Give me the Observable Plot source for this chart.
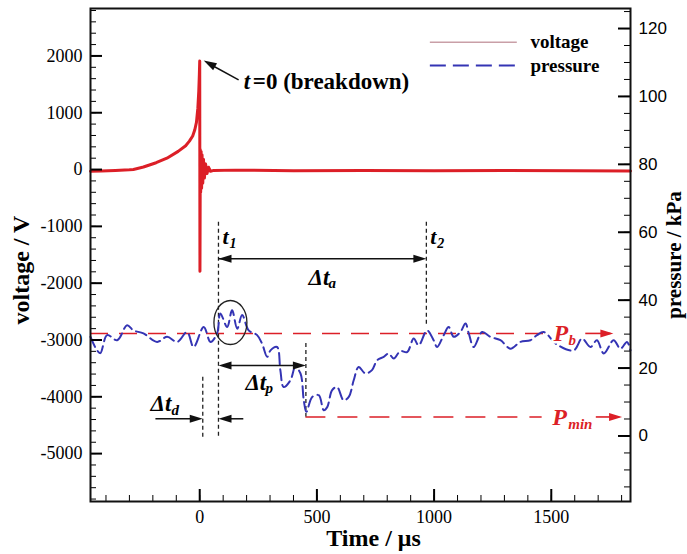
<!DOCTYPE html>
<html><head><meta charset="utf-8">
<script src="https://cdn.jsdelivr.net/npm/d3@7"></script>
<script src="https://cdn.jsdelivr.net/npm/@observablehq/plot@0.6"></script>
<style>html,body{margin:0;padding:0;background:#fff;overflow:hidden}</style>
</head><body><div id="chart"></div>
<script>
// ---------- data ----------
const voltTime = [-466,-420,-360,-300,-283,-240,-186,-140,-92,-60,-44,-30,-21,-14,-8,-4,-1.5,0,1,2.5,4,6,8,10,13,16,20,25,31,38,46,60,150,400,700,1000,1300,1600,1838];
const voltValue = [-30,-25,-15,-5,0,45,120,200,320,420,500,590,700,830,1080,1380,1680,1910,-1790,350,-400,320,-330,260,-240,180,-150,100,-70,40,-30,-15,-10,-20,-15,-20,-15,-20,-25];

const presTime = [-466,-438,-424,-395,-352,-310,-283,-240,-182,-139,-96,-54,-26,17,46,74,88,117,138,160,181,209,245,266,288,302,330,344,358,387,408,430,444,455,480,508,529,544,565,586,614,636,657,678,707,735,757,785,806,828,856,885,913,934,970,998,1013,1041,1062,1084,1112,1134,1148,1169,1205,1240,1283,1326,1368,1411,1439,1468,1525,1596,1631,1667,1695,1724,1766,1795,1823,1838];
const presValue = [29.2,25.2,24.4,29.7,28.2,32.6,31.1,30.2,27.7,29.2,27.7,30.6,26.2,32.1,27.7,30.2,36.1,32.1,37.0,31.6,35.6,31.1,29.7,27.2,23.3,25.2,26.2,19.4,14.4,16.4,20.3,18.4,10.5,7.1,11.5,12.0,7.6,8.5,13.5,14.4,10.5,11.5,16.4,20.3,18.4,19.4,22.3,23.3,24.3,22.8,25.0,24.7,28.7,26.7,31.1,28.2,26.2,29.7,32.1,29.2,30.6,33.1,30.2,26.2,30.6,29.2,28.2,25.7,27.7,28.2,29.7,30.6,26.9,25.2,28.7,26.2,28.2,24.3,28.2,25.7,27.7,25.2];

const xTickValues = [0, 500, 1000, 1500];
const voltTickValues = [-5000, -4000, -3000, -2000, -1000, 0, 1000, 2000];
const presTickValues = [0, 20, 40, 60, 80, 100, 120];
const legendLabels = ["voltage", "pressure"];

// annotation values (time in µs, voltage in V, pressure in kPa)
const t1 = 80, t2 = 967, tD = 13, tMin = 453;
const Pb = 30.2, Pmin = 5.6;

// ---------- scales ----------
const timeDomain = [-466, 1838];
const voltDomain = [-5843, 2835];
const presDomain = [-19.3, 125.9];
const p2v = d3.scaleLinear(presDomain, voltDomain);

const voltData = voltTime.map((t, i) => ({t, v: voltValue[i]}));
const presData = presTime.map((t, i) => ({t, p: presValue[i]}));

const W = 540, H = 493;
const serif = "'Liberation Serif','Times New Roman',Times,serif";
const sans = "'Liberation Sans',Arial,Helvetica,sans-serif";
const red = "#dc1f27";
const blue = "#3434b4";

const tri = {draw(ctx, l) { ctx.moveTo(0, -l); ctx.lineTo(-4, 0); ctx.lineTo(4, 0); ctx.closePath(); }};
const ellipse = {draw(ctx) {
  const a = 16.5, b = 22, k = 0.5523;
  ctx.moveTo(a, 0);
  ctx.bezierCurveTo(a, k*b, k*a, b, 0, b);
  ctx.bezierCurveTo(-k*a, b, -a, k*b, -a, 0);
  ctx.bezierCurveTo(-a, -k*b, -k*a, -b, 0, -b);
  ctx.bezierCurveTo(k*a, -b, a, -k*b, a, 0);
  ctx.closePath();
}};

const head = (data, color) => Plot.vector(data, {x: "t", y: "v", rotate: "r", length: 13, anchor: "end", shape: tri, fill: color, stroke: "none"});
const txt = (t, v, s, o = {}) => Plot.text([{t, v, s}], {x: "t", y: "v", text: "s", textAnchor: "start", fontFamily: serif, fontWeight: "bold", ...o});

const yArrowA = -1570, yArrowP = -3449, yArrowD = -4387;
const yLineTop = -926, yLineBottom = -4716;

const chart = Plot.plot({
  width: 687, height: 554,
  marginLeft: 90, marginRight: 57, marginTop: 8, marginBottom: 53,
  style: {background: "#fff", fontFamily: serif},
  x: {domain: timeDomain},
  y: {domain: voltDomain},
  marks: [
    // reference lines
    Plot.ruleY([Pb], {y: p2v, x1: -466, x2: 1468, stroke: red, strokeWidth: 1.6, strokeDasharray: "18,11"}),
    Plot.ruleY([Pmin], {y: p2v, x1: tMin, x2: 1461, stroke: red, strokeWidth: 1.6, strokeDasharray: "20,12"}),
    Plot.link([{x1: 1645, x2: 1752, y: p2v(Pb)}, {x1: 1690, x2: 1790, y: p2v(Pmin)}], {x1: "x1", x2: "x2", y1: "y", y2: "y", stroke: red, strokeWidth: 1.6}),
    head([{t: 1765, v: p2v(Pb), r: 90}, {t: 1802, v: p2v(Pmin), r: 90}], red),

    // vertical dashed markers
    Plot.ruleX([
      {t: t1, a: yLineTop, b: yLineBottom},
      {t: tD, a: -3655, b: yLineBottom},
      {t: t2, a: yLineTop, b: p2v(32)},
      {t: tMin, a: p2v(27.2), b: p2v(Pmin)}
    ], {x: "t", y1: "a", y2: "b", stroke: "#222", strokeWidth: 1.3, strokeDasharray: "4,3"}),

    // data
    Plot.line(voltData, {x: "t", y: "v", stroke: red, strokeWidth: 3}),
    Plot.line(presData, {x: "t", y: d => p2v(d.p), stroke: blue, strokeWidth: 2, strokeDasharray: "11,5", curve: "catmull-rom"}),

    // arrows
    Plot.link([
      {x1: t1, x2: t2 - 30, y: yArrowA},
      {x1: t1 + 30, x2: tMin - 30, y: yArrowP},
      {x1: -189, x2: tD - 30, y: yArrowD},
      {x1: 186, x2: t1 + 30, y: yArrowD}
    ], {x1: "x1", x2: "x2", y1: "y", y2: "y", stroke: "#111", strokeWidth: 1.5}),
    head([
      {t: t1, v: yArrowA, r: -90}, {t: t2, v: yArrowA, r: 90},
      {t: t1, v: yArrowP, r: -90}, {t: tMin, v: yArrowP, r: 90},
      {t: tD, v: yArrowD, r: 90}, {t: t1, v: yArrowD, r: -90}
    ], "#111"),
    Plot.link([{x1: 166, y1: 1580, x2: 40, y2: 1863}], {x1: "x1", y1: "y1", x2: "x2", y2: "y2", stroke: "#111", strokeWidth: 1.5}),
    head([{t: 17, v: 1920, r: -61}], "#111"),

    // circle around the first peak
    Plot.dot([{t: 131, v: -2692}], {x: "t", y: "v", symbol: ellipse, stroke: "#222", strokeWidth: 1.3, fill: "none"}),

    // annotation labels
    txt(188, 1540, "t", {fontSize: 23, fontStyle: "italic"}),
    txt(188, 1540, "=0 (breakdown)", {fontSize: 23, dx: 9}),
    txt(t1, -1190, "t", {fontSize: 22, fontStyle: "italic", dx: 4}),
    txt(t1, -1190, "1", {fontSize: 14, fontStyle: "italic", dx: 11, dy: 6}),
    txt(t2, -1190, "t", {fontSize: 22, fontStyle: "italic", dx: 4}),
    txt(t2, -1190, "2", {fontSize: 14, fontStyle: "italic", dx: 11, dy: 6}),
    txt(464, -1894, "Δt", {fontSize: 23, fontStyle: "italic"}),
    txt(464, -1894, "a", {fontSize: 15, fontStyle: "italic", dx: 20, dy: 6}),
    txt(195, -3743, "Δt", {fontSize: 23, fontStyle: "italic"}),
    txt(195, -3743, "p", {fontSize: 15, fontStyle: "italic", dx: 20, dy: 6}),
    txt(-210, -4123, "Δt", {fontSize: 23, fontStyle: "italic"}),
    txt(-210, -4123, "d", {fontSize: 15, fontStyle: "italic", dx: 21, dy: 6}),
    txt(1509, p2v(Pb), "P", {fontSize: 24, fontStyle: "italic", fill: red, stroke: "#fff", strokeWidth: 5}),
    txt(1509, p2v(Pb), "b", {fontSize: 15, fontStyle: "italic", fill: red, dx: 15, dy: 7, stroke: "#fff", strokeWidth: 4}),
    txt(1504, p2v(Pmin), "P", {fontSize: 24, fontStyle: "italic", fill: red}),
    txt(1504, p2v(Pmin), "min", {fontSize: 15, fontStyle: "italic", fill: red, dx: 16, dy: 7}),

    // legend
    Plot.ruleY([2242], {x1: 984, x2: 1355, stroke: "#c99fa7", strokeWidth: 1.5}),
    Plot.ruleY([1832], {x1: 984, x2: 1355, stroke: blue, strokeWidth: 2, strokeDasharray: "16,7"}),
    Plot.text([{t: 1411, v: 2242, s: legendLabels[0]}, {t: 1411, v: 1832, s: legendLabels[1]}], {x: "t", y: "v", text: "s", textAnchor: "start", fontSize: 19, fontWeight: "bold", fontFamily: serif}),

    // inward ticks
    Plot.tickY(d3.range(-5800, 2801, 200), {y: d => d, insetRight: W - 6, strokeWidth: 1}),
    Plot.tickY(voltTickValues, {y: d => d, insetRight: W - 12, strokeWidth: 2}),
    Plot.tickY(d3.range(-15, 126, 5), {y: p2v, insetLeft: W - 6, strokeWidth: 1}),
    Plot.tickY(presTickValues, {y: p2v, insetLeft: W - 12, strokeWidth: 2}),
    Plot.tickX(d3.range(-400, 1801, 100), {x: d => d, insetTop: H - 6, strokeWidth: 1}),
    Plot.tickX(xTickValues, {x: d => d, insetTop: H - 12, strokeWidth: 2}),

    // axes
    Plot.axisX(xTickValues, {tickSize: 0, tickPadding: 9, fontSize: 18, fontFamily: serif, label: null, tickFormat: d => String(d), className: "serifaxis"}),
    Plot.axisY(voltTickValues, {anchor: "left", tickSize: 0, tickPadding: 8, fontSize: 18, fontFamily: serif, label: null, tickFormat: d => String(d), className: "serifaxis"}),
    Plot.axisY(presTickValues, {anchor: "right", y: p2v, tickSize: 0, tickPadding: 8, fontSize: 17, fontFamily: sans, label: null, tickFormat: d => String(d), className: "sansaxis"}),

    Plot.frame({stroke: "#111", strokeWidth: 2}),

    // titles
    Plot.text(["voltage / V"], {frameAnchor: "left", textAnchor: "middle", lineAnchor: "middle", dx: -69, dy: 15, rotate: -90, fontSize: 24, fontWeight: "bold", fontFamily: serif}),
    Plot.text(["pressure / kPa"], {frameAnchor: "right", textAnchor: "middle", lineAnchor: "middle", dx: 44, dy: 0, rotate: -90, fontSize: 21, fontWeight: "bold", fontFamily: serif}),
    Plot.text(["Time / μs"], {frameAnchor: "bottom", textAnchor: "middle", lineAnchor: "middle", dx: 13, dy: 37, fontSize: 24, fontWeight: "bold", fontFamily: serif})
  ]
});
// make sure the axis tick labels use the intended families
d3.select(chart).selectAll('g[aria-label="x-axis tick label"], g[aria-label="y-axis tick label"]').each(function() {
  const g = d3.select(this);
  const isRight = g.attr("text-anchor") === "start";
  g.attr("font-family", isRight ? sans : serif).style("font-family", isRight ? sans : serif);
});
document.getElementById("chart").append(chart);
</script>
</body></html>
